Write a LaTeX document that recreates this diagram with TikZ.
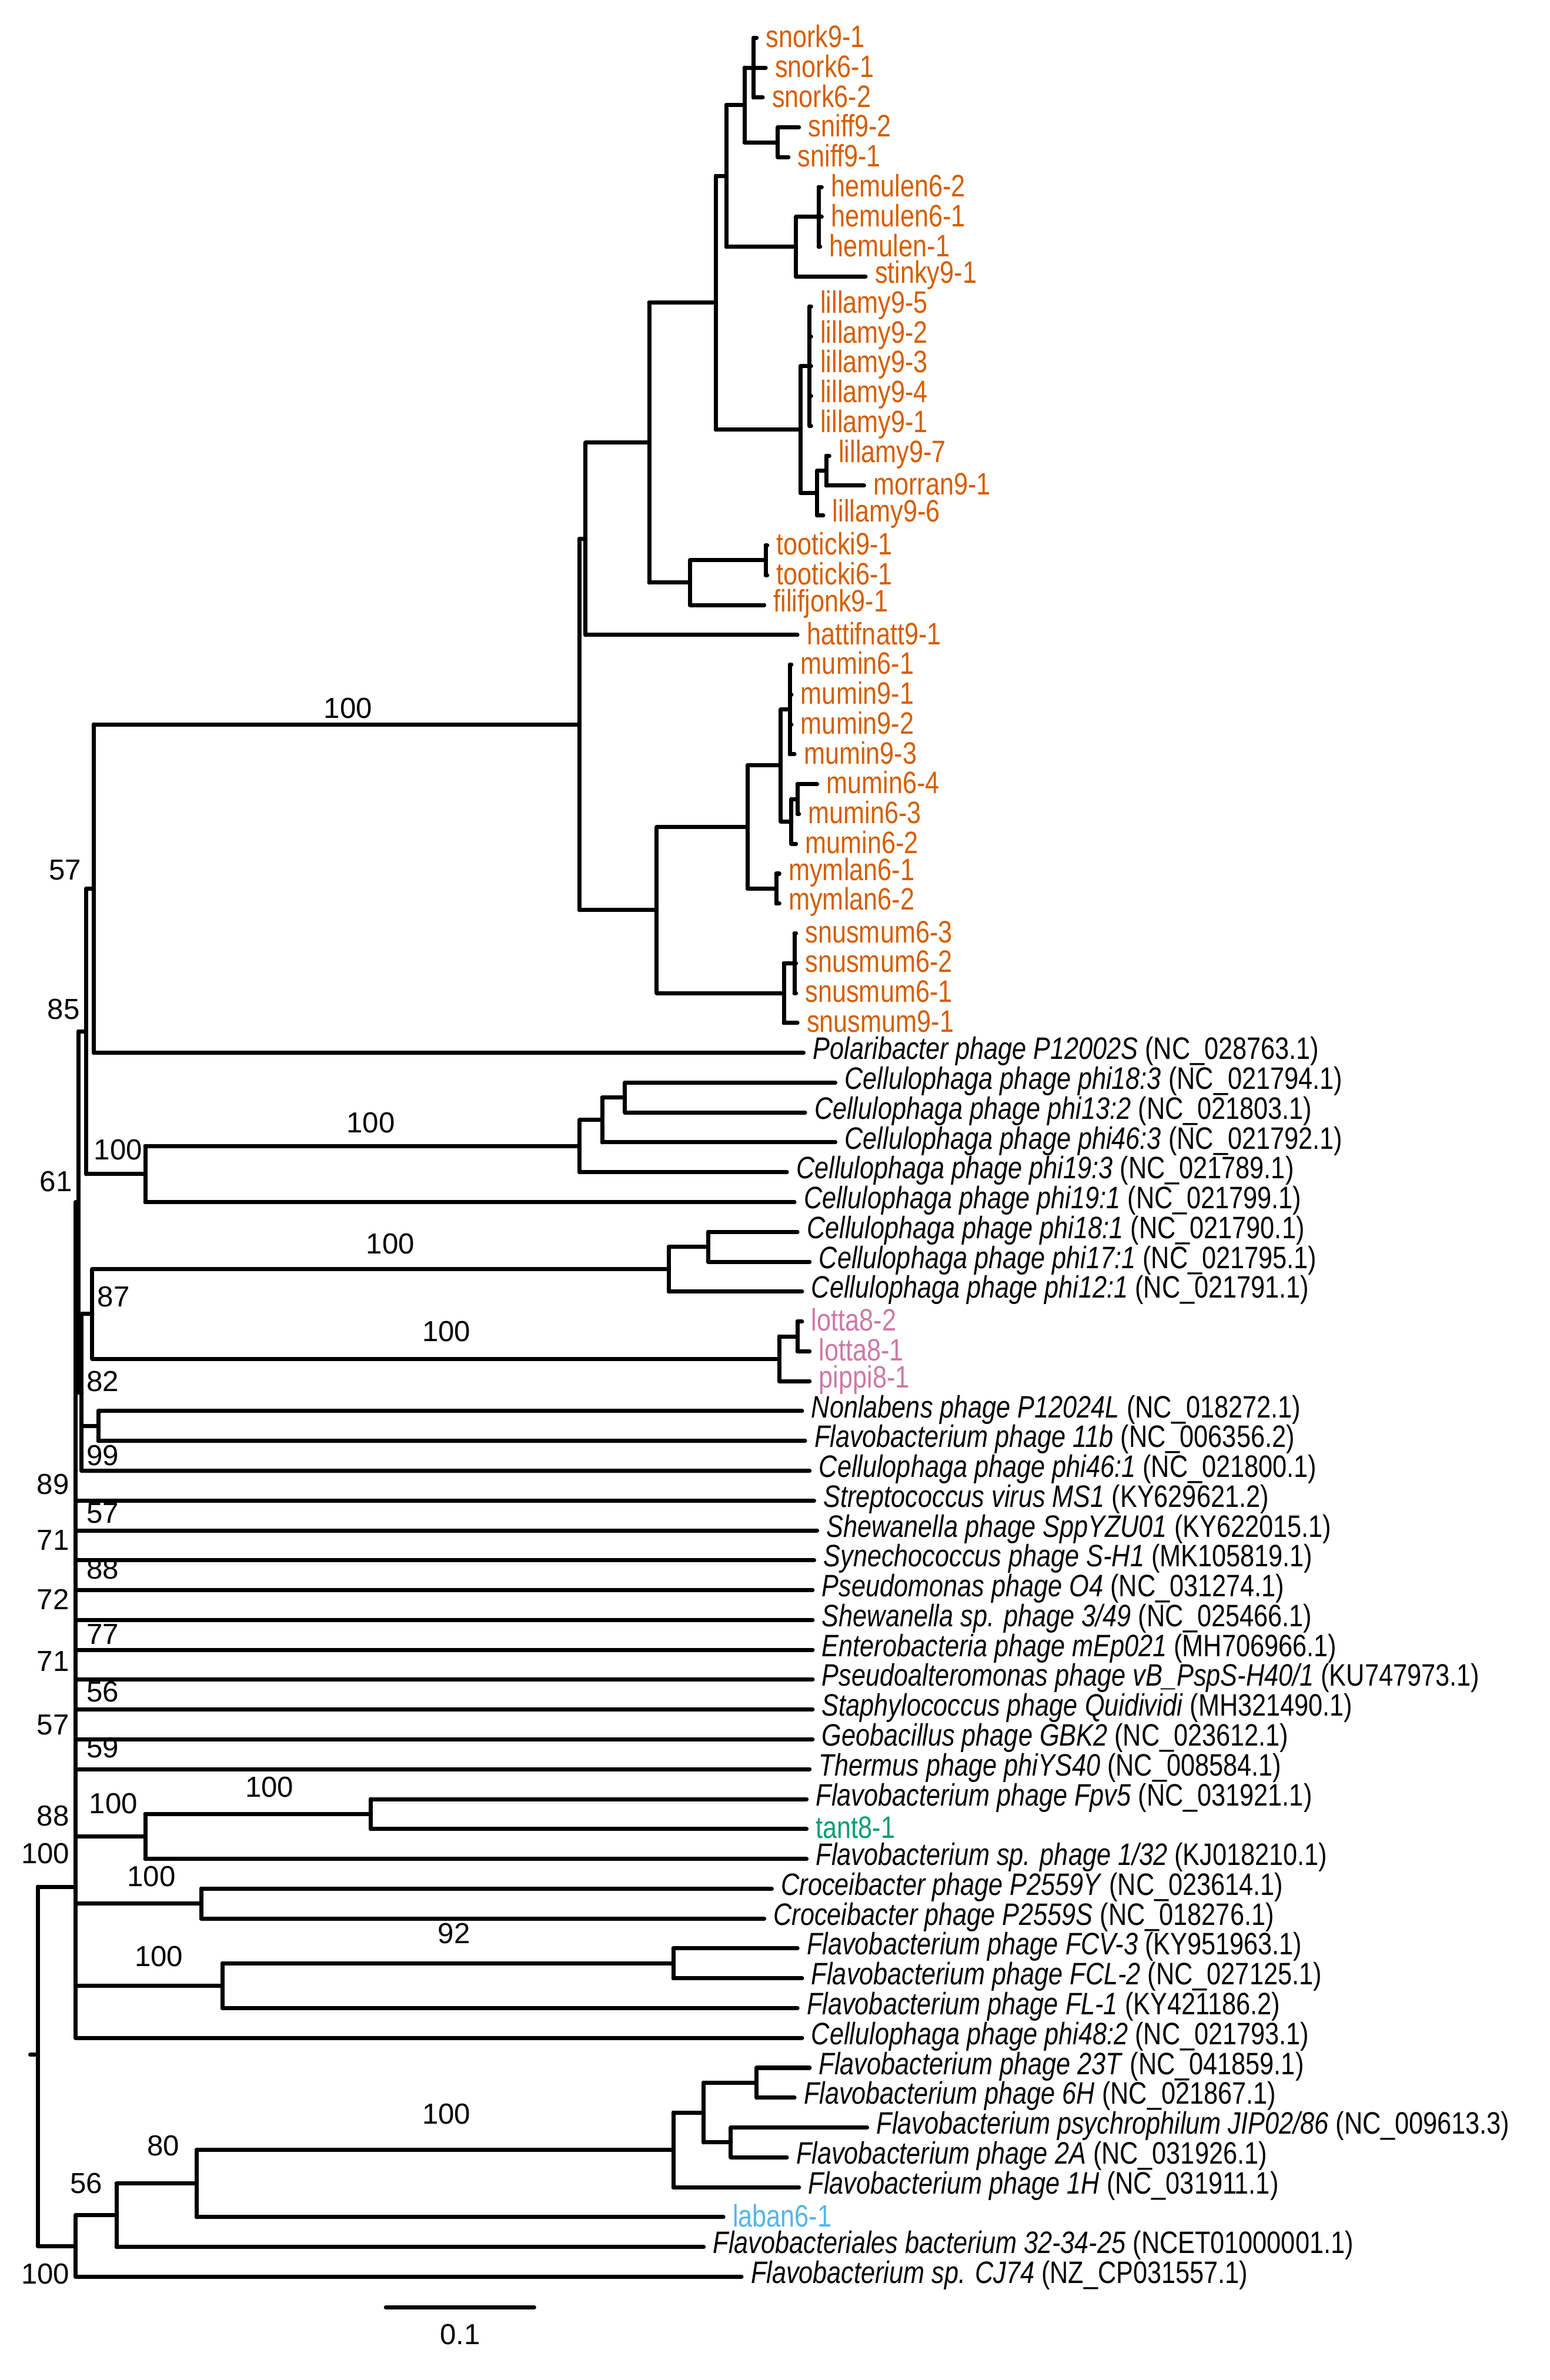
\documentclass[tikz,border=0pt]{standalone}
\usepackage{fontspec}
\setmainfont{Liberation Sans}
\usetikzlibrary{positioning,calc}
\definecolor{orn}{HTML}{D55E00}
\definecolor{pnk}{HTML}{CC79A7}
\definecolor{grn}{HTML}{009E73}
\definecolor{blu}{HTML}{56B4E9}
\tikzset{br/.style={line width=2pt, line cap=round},
  tx/.style={font=\fontsize{15}{15}\selectfont, xscale=0.82, anchor=west, inner sep=0pt},
  bs/.style={font=\fontsize{14}{14}\selectfont, inner sep=0pt}}
% vertical and horizontal tree segments, leaf tips
\newcommand{\vseg}[3]{\draw[br] (#1,{#2}) -- (#1,{#3});}
\newcommand{\hseg}[3]{\draw[br] (#1,{#3}) -- (#2,{#3});}
\newcommand{\leaf}[5]{%
  \draw[br] (#2,{Y(#1)}) -- (#3,{Y(#1)});
  \node[tx,#4] (t#1) at (#3+6,{Y(#1)-1}) {#5};}
\begin{document}
\begin{tikzpicture}[x=0.02573cm, y=-0.02573cm,
  declare function={Y(\i)=25+(\i-1)*19.73;}]
\useasboundingbox (0,0) rectangle (1024,1573);

% snork / sniff
\pgfmathsetmacro\ySnork{Y(2)}
\vseg{498}{Y(1)}{Y(3)}
\leaf{1}{498}{500}{orn}{snork9-1}
\leaf{2}{498}{506}{orn}{snork6-1}
\leaf{3}{498}{504}{orn}{snork6-2}
\pgfmathsetmacro\ySniff{(Y(4)+Y(5))/2}
\vseg{514}{Y(4)}{Y(5)}
\leaf{4}{514}{528}{orn}{sniff9-2}
\leaf{5}{514}{521}{orn}{sniff9-1}
\vseg{492}{\ySnork}{\ySniff}
\hseg{492}{498}{\ySnork}
\hseg{492}{514}{\ySniff}
\pgfmathsetmacro\yA{(\ySnork+\ySniff)/2}
% hemulen
\vseg{541}{Y(6)}{Y(8)}
\leaf{6}{541}{543}{orn}{hemulen6-2}
\leaf{7}{541}{543}{orn}{hemulen6-1}
\leaf{8}{541}{542}{orn}{hemulen-1}
\vseg{526}{Y(7)}{Y(9)}
\hseg{526}{541}{Y(7)}
\leaf{9}{526}{572}{orn}{stinky9-1}
\pgfmathsetmacro\yB{(Y(7)+Y(9))/2}
\vseg{480}{\yA}{\yB}
\hseg{480}{492}{\yA}
\hseg{480}{526}{\yB}
\pgfmathsetmacro\yC{(\yA+\yB)/2}
% lillamy
\vseg{535}{Y(10)}{Y(14)}
\leaf{10}{535}{536}{orn}{lillamy9-5}
\leaf{11}{535}{536}{orn}{lillamy9-2}
\leaf{12}{535}{536}{orn}{lillamy9-3}
\leaf{13}{535}{536}{orn}{lillamy9-4}
\leaf{14}{535}{536}{orn}{lillamy9-1}
\vseg{546}{Y(15)}{Y(16)}
\leaf{15}{546}{548}{orn}{lillamy9-7}
\leaf{16}{546}{571}{orn}{morran9-1}
\pgfmathsetmacro\yD{(Y(15)+Y(16))/2}
\vseg{540}{\yD}{Y(17)}
\hseg{540}{546}{\yD}
\leaf{17}{540}{544}{orn}{lillamy9-6}
\pgfmathsetmacro\yE{(\yD+Y(17))/2}
\vseg{529}{Y(12)}{\yE}
\hseg{529}{535}{Y(12)}
\hseg{529}{540}{\yE}
\pgfmathsetmacro\yF{(Y(12)+\yE)/2}
\vseg{473}{\yC}{\yF}
\hseg{473}{480}{\yC}
\hseg{473}{529}{\yF}
\pgfmathsetmacro\yG{(\yC+\yF)/2}
% tooticki
\vseg{506}{Y(18)}{Y(19)}
\leaf{18}{506}{507}{orn}{tooticki9-1}
\leaf{19}{506}{507}{orn}{tooticki6-1}
\pgfmathsetmacro\yH{(Y(18)+Y(19))/2}
\vseg{456}{\yH}{Y(20)}
\hseg{456}{506}{\yH}
\leaf{20}{456}{505}{orn}{filifjonk9-1}
\pgfmathsetmacro\yI{(\yH+Y(20))/2}
\vseg{429}{\yG}{\yI}
\hseg{429}{473}{\yG}
\hseg{429}{456}{\yI}
\pgfmathsetmacro\yJ{(\yG+\yI)/2}
\vseg{387}{\yJ}{Y(21)}
\hseg{387}{429}{\yJ}
\leaf{21}{387}{527}{orn}{hattifnatt9-1}
\pgfmathsetmacro\yK{(\yJ+Y(21))/2}
% mumin
\vseg{522}{Y(22)}{Y(25)}
\leaf{22}{522}{523}{orn}{mumin6-1}
\leaf{23}{522}{523}{orn}{mumin9-1}
\leaf{24}{522}{523}{orn}{mumin9-2}
\leaf{25}{522}{525}{orn}{mumin9-3}
\pgfmathsetmacro\yL{(Y(22)+Y(25))/2}
\vseg{527}{Y(26)}{Y(27)}
\leaf{26}{527}{540}{orn}{mumin6-4}
\leaf{27}{527}{528}{orn}{mumin6-3}
\pgfmathsetmacro\yM{(Y(26)+Y(27))/2}
\vseg{523}{\yM}{Y(28)}
\hseg{523}{527}{\yM}
\leaf{28}{523}{526}{orn}{mumin6-2}
\pgfmathsetmacro\yN{(\yM+Y(28))/2}
\vseg{516}{\yL}{\yN}
\hseg{516}{522}{\yL}
\hseg{516}{523}{\yN}
\pgfmathsetmacro\yO{(\yL+\yN)/2}
\vseg{513}{Y(29)}{Y(30)}
\leaf{29}{513}{515}{orn}{mymlan6-1}
\leaf{30}{513}{515}{orn}{mymlan6-2}
\pgfmathsetmacro\yP{(Y(29)+Y(30))/2}
\vseg{494}{\yO}{\yP}
\hseg{494}{516}{\yO}
\hseg{494}{513}{\yP}
\pgfmathsetmacro\yQ{(\yO+\yP)/2}
\vseg{525}{Y(31)}{Y(33)}
\leaf{31}{525}{526}{orn}{snusmum6-3}
\leaf{32}{525}{526}{orn}{snusmum6-2}
\leaf{33}{525}{526}{orn}{snusmum6-1}
\vseg{518}{Y(32)}{Y(34)}
\hseg{518}{525}{Y(32)}
\leaf{34}{518}{527}{orn}{snusmum9-1}
\pgfmathsetmacro\yR{(Y(32)+Y(34))/2}
\vseg{434}{\yQ}{\yR}
\hseg{434}{494}{\yQ}
\hseg{434}{518}{\yR}
\pgfmathsetmacro\yS{(\yQ+\yR)/2}
\vseg{383}{\yK}{\yS}
\hseg{383}{387}{\yK}
\hseg{383}{434}{\yS}
\pgfmathsetmacro\yT{(\yK+\yS)/2}
\vseg{62}{\yT}{Y(35)}
\hseg{62}{383}{\yT}
\leaf{35}{62}{531}{}{\textit{Polaribacter phage P12002S} (NC\_028763.1)}
\pgfmathsetmacro\yU{(\yT+Y(35))/2}

% Cellulophaga clade
\vseg{413}{Y(36)}{Y(37)}
\leaf{36}{413}{552}{}{\textit{Cellulophaga phage phi18:3} (NC\_021794.1)}
\leaf{37}{413}{532}{}{\textit{Cellulophaga phage phi13:2} (NC\_021803.1)}
\pgfmathsetmacro\yV{(Y(36)+Y(37))/2}
\vseg{398}{\yV}{Y(38)}
\hseg{398}{413}{\yV}
\leaf{38}{398}{552}{}{\textit{Cellulophaga phage phi46:3} (NC\_021792.1)}
\pgfmathsetmacro\yW{(\yV+Y(38))/2}
\vseg{383}{\yW}{Y(39)}
\hseg{383}{398}{\yW}
\leaf{39}{383}{520}{}{\textit{Cellulophaga phage phi19:3} (NC\_021789.1)}
\pgfmathsetmacro\yX{(\yW+Y(39))/2}
\vseg{96}{\yX}{Y(40)}
\hseg{96}{383}{\yX}
\leaf{40}{96}{525}{}{\textit{Cellulophaga phage phi19:1} (NC\_021799.1)}
\pgfmathsetmacro\yZ{(\yX+Y(40))/2}
\vseg{57}{\yU}{\yZ}
\hseg{57}{62}{\yU}
\hseg{57}{96}{\yZ}
\pgfmathsetmacro\yEf{(\yU+\yZ)/2}

\vseg{468}{Y(41)}{Y(42)}
\leaf{41}{468}{527}{}{\textit{Cellulophaga phage phi18:1} (NC\_021790.1)}
\leaf{42}{468}{535}{}{\textit{Cellulophaga phage phi17:1} (NC\_021795.1)}
\pgfmathsetmacro\yAa{(Y(41)+Y(42))/2}
\vseg{442}{\yAa}{Y(43)}
\hseg{442}{468}{\yAa}
\leaf{43}{442}{530}{}{\textit{Cellulophaga phage phi12:1} (NC\_021791.1)}
\pgfmathsetmacro\yAb{(\yAa+Y(43))/2}
\vseg{527}{Y(44)}{Y(45)}
\leaf{44}{527}{530}{pnk}{lotta8-2}
\leaf{45}{527}{535}{pnk}{lotta8-1}
\pgfmathsetmacro\yAc{(Y(44)+Y(45))/2}
\vseg{515}{\yAc}{Y(46)}
\hseg{515}{527}{\yAc}
\leaf{46}{515}{535}{pnk}{pippi8-1}
\pgfmathsetmacro\yAd{(\yAc+Y(46))/2}
\vseg{61}{\yAb}{\yAd}
\hseg{61}{442}{\yAb}
\hseg{61}{515}{\yAd}
\pgfmathsetmacro\yAe{(\yAb+\yAd)/2}
\vseg{65}{Y(47)}{Y(48)}
\leaf{47}{65}{530}{}{\textit{Nonlabens phage P12024L} (NC\_018272.1)}
\leaf{48}{65}{532}{}{\textit{Flavobacterium phage 11b} (NC\_006356.2)}
\pgfmathsetmacro\yAf{(Y(47)+Y(48))/2}
\vseg{54}{\yAe}{Y(49)}
\hseg{54}{61}{\yAe}
\hseg{54}{65}{\yAf}
\leaf{49}{54}{535}{}{\textit{Cellulophaga phage phi46:1} (NC\_021800.1)}
\pgfmathsetmacro\yAg{(\yAe+Y(49))/2}
\vseg{52}{\yEf}{\yAg}
\hseg{52}{57}{\yEf}
\hseg{50}{54}{\yAg}

% spine
\vseg{50}{Y(40)}{Y(68)}
\leaf{50}{50}{538}{}{\textit{Streptococcus virus MS1} (KY629621.2)}
\leaf{51}{50}{540}{}{\textit{Shewanella phage SppYZU01} (KY622015.1)}
\leaf{52}{50}{538}{}{\textit{Synechococcus phage S-H1} (MK105819.1)}
\leaf{53}{50}{537}{}{\textit{Pseudomonas phage O4} (NC\_031274.1)}
\leaf{54}{50}{537}{}{\textit{Shewanella sp. phage 3/49} (NC\_025466.1)}
\leaf{55}{50}{537}{}{\textit{Enterobacteria phage mEp021} (MH706966.1)}
\leaf{56}{50}{537}{}{\textit{Pseudoalteromonas phage vB\_PspS-H40/1} (KU747973.1)}
\leaf{57}{50}{537}{}{\textit{Staphylococcus phage Quidividi} (MH321490.1)}
\leaf{58}{50}{537}{}{\textit{Geobacillus phage GBK2} (NC\_023612.1)}
\leaf{59}{50}{535}{}{\textit{Thermus phage phiYS40} (NC\_008584.1)}
\vseg{245}{Y(60)}{Y(61)}
\leaf{60}{245}{533}{}{\textit{Flavobacterium phage Fpv5} (NC\_031921.1)}
\leaf{61}{245}{533}{grn}{tant8-1}
\pgfmathsetmacro\yBa{(Y(60)+Y(61))/2}
\vseg{96}{\yBa}{Y(62)}
\hseg{96}{245}{\yBa}
\leaf{62}{96}{533}{}{\textit{Flavobacterium sp. phage 1/32} (KJ018210.1)}
\hseg{50}{96}{(\yBa+Y(62))/2}
\vseg{133}{Y(63)}{Y(64)}
\leaf{63}{133}{510}{}{\textit{Croceibacter phage P2559Y} (NC\_023614.1)}
\leaf{64}{133}{505}{}{\textit{Croceibacter phage P2559S} (NC\_018276.1)}
\hseg{50}{133}{(Y(63)+Y(64))/2}
\vseg{445}{Y(65)}{Y(66)}
\leaf{65}{445}{527}{}{\textit{Flavobacterium phage FCV-3} (KY951963.1)}
\leaf{66}{445}{530}{}{\textit{Flavobacterium phage FCL-2} (NC\_027125.1)}
\pgfmathsetmacro\yBb{(Y(65)+Y(66))/2}
\vseg{147}{\yBb}{Y(67)}
\hseg{147}{445}{\yBb}
\leaf{67}{147}{527}{}{\textit{Flavobacterium phage FL-1} (KY421186.2)}
\hseg{50}{147}{(\yBb+Y(67))/2}
\leaf{68}{50}{530}{}{\textit{Cellulophaga phage phi48:2} (NC\_021793.1)}

% lower clade
\vseg{500}{Y(69)}{Y(70)}
\leaf{69}{500}{535}{}{\textit{Flavobacterium phage 23T} (NC\_041859.1)}
\leaf{70}{500}{525}{}{\textit{Flavobacterium phage 6H} (NC\_021867.1)}
\vseg{483}{Y(71)}{Y(72)}
\leaf{71}{483}{573}{}{\textit{Flavobacterium psychrophilum JIP02/86} (NC\_009613.3)}
\leaf{72}{483}{520}{}{\textit{Flavobacterium phage 2A} (NC\_031926.1)}
\pgfmathsetmacro\yCa{(Y(69)+Y(70))/2}
\pgfmathsetmacro\yCb{(Y(71)+Y(72))/2}
\vseg{465}{\yCa}{\yCb}
\hseg{465}{500}{\yCa}
\hseg{465}{483}{\yCb}
\pgfmathsetmacro\yCc{(\yCa+\yCb)/2}
\vseg{445}{\yCc}{Y(73)}
\hseg{445}{465}{\yCc}
\leaf{73}{445}{528}{}{\textit{Flavobacterium phage 1H} (NC\_031911.1)}
\pgfmathsetmacro\yCd{(\yCc+Y(73))/2}
\vseg{130}{\yCd}{Y(74)}
\hseg{130}{445}{\yCd}
\leaf{74}{130}{478}{blu}{laban6-1}
\pgfmathsetmacro\yCe{(\yCd+Y(74))/2}
\vseg{77}{\yCe}{Y(75)}
\hseg{77}{130}{\yCe}
\leaf{75}{77}{465}{}{\textit{Flavobacteriales bacterium 32-34-25} (NCET01000001.1)}
\pgfmathsetmacro\yCf{(\yCe+Y(75))/2}
\vseg{50}{\yCf}{Y(76)}
\hseg{50}{77}{\yCf}
\leaf{76}{50}{490}{}{\textit{Flavobacterium sp. CJ74} (NZ\_CP031557.1)}
\pgfmathsetmacro\yCg{(\yCf+Y(76))/2}

% root
\vseg{25}{1247}{\yCg}
\hseg{25}{50}{1247}
\hseg{25}{50}{\yCg}
\hseg{20}{25}{1358}

% bootstrap values
\foreach \bx/\by/\bt in {230/468/100, 43/575/57, 42/667/85, 245/742/100, 78/760/100,
  37/781/61, 258/822/100, 75/857/87, 295/880/100, 68/913/82, 68/962/99, 35/981/89,
  68/1000/57, 35/1018/71, 68/1037/88, 35/1057/72, 68/1080/77, 35/1098/71, 68/1118/56,
  35/1140/57, 68/1155/59, 75/1192/100, 178/1181/100, 35/1200/88, 30/1225/100,
  100/1240/100, 300/1278/92, 105/1293/100, 295/1397/100, 108/1418/80, 57/1443/56,
  30/1503/100}
  \node[bs] (b\bx-\by) at (\bx,\by) {\bt};

% scale bar
\coordinate (sa) at (255,1525);
\coordinate (sb) at (353,1525);
\draw[br] (sa) -- (sb);
\node[bs] (scl) at ($(sa)!0.5!(sb)+(0,18)$) {0.1};
\end{tikzpicture}
\end{document}
